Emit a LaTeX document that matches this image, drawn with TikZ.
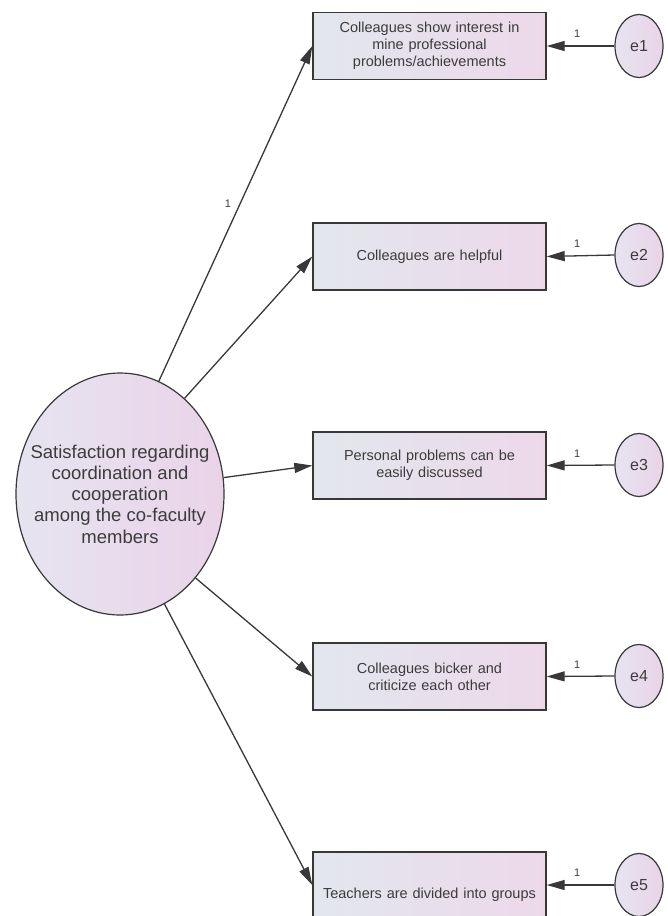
\documentclass[tikz,border=0pt]{standalone}
\usepackage{fontspec}
\setmainfont{Liberation Sans}
\usetikzlibrary{arrows.meta,shapes.geometric}
\definecolor{boxL}{HTML}{E2E7EE}
\definecolor{boxR}{HTML}{EDD8EA}
\definecolor{ellL}{HTML}{E6E4F1}
\definecolor{ellR}{HTML}{EAD3E8}
\definecolor{txt}{HTML}{3C3C3C}
\definecolor{edge}{HTML}{383838}
\begin{document}
\begin{tikzpicture}[x=1pt,y=-1pt,
  obs/.style={draw=edge, line width=1.4pt, left color=boxL, right color=boxR,
    minimum width=233pt, minimum height=67pt, inner sep=2pt, text width=225pt,
    align=center, font=\fontsize{14.5}{17}\selectfont, text=txt},
  err/.style={ellipse, draw=edge, line width=1.2pt, left color=ellL, right color=ellR,
    minimum width=48pt, minimum height=63pt, inner sep=0pt,
    font=\fontsize{16}{18}\selectfont, text=txt},
  conn/.style={draw=edge, line width=1.3pt, -{Triangle[length=18pt,width=10pt]}},
  one/.style={font=\fontsize{11}{12}\selectfont, text=txt, inner sep=0pt}
]
\useasboundingbox (0,0) rectangle (668,916);

% latent variable
\node[ellipse, draw=edge, line width=1.2pt, left color=ellL, right color=ellR,
  minimum width=208pt, minimum height=242pt, inner sep=0pt] (lat) at (120,494) {};
\node[text=txt, align=center, font=\fontsize{18.5}{21.3}\selectfont] (latt) at (lat.center)
  {Satisfaction regarding\\coordination and\\cooperation\\among the co-faculty\\members};

% observed variables
\node[obs] (b1) at (429.5,46) {Colleagues show interest in\\ mine professional\\ problems/achievements};
\node[obs] (b2) at (429.5,256.5) {Colleagues are helpful};
\node[obs] (b3) at (429.5,465.5) {Personal problems can be\\ easily discussed};
\node[obs] (b4) at (429.5,676.5) {Colleagues bicker and\\ criticize each other};
\node[obs, minimum height=86pt] (b5) at (429.5,895) {Teachers are divided into groups};

% error terms
\node[err] (e1) at (639,46) {e1};
\node[err] (e2) at (639,255) {e2};
\node[err] (e3) at (639,465) {e3};
\node[err] (e4) at (639,676) {e4};
\node[err] (e5) at (639,885) {e5};

% loadings
\draw[conn] (lat.71) -- (b1.west) node[one, pos=0.528, xshift=-12pt] {1};
\draw[conn] (lat.56.7) -- (b2.west);
\draw[conn] (lat.9.4) -- (b3.west);
\draw[conn] (lat.-48.2) -- (b4.west);
\draw[conn] (lat.-68.3) -- (e5 -| b5.west);

% error paths
\draw[conn] (e1.west) -- (b1.east) node[one, pos=0.55, yshift=12pt] {1};
\draw[conn] (e2.west) -- (b2.east) node[one, pos=0.55, yshift=12pt] {1};
\draw[conn] (e3.west) -- (b3.east) node[one, pos=0.55, yshift=12pt] {1};
\draw[conn] (e4.west) -- (b4.east) node[one, pos=0.55, yshift=12pt] {1};
\draw[conn] (e5.west) -- (e5 -| b5.east) node[one, pos=0.55, yshift=12pt] {1};
\end{tikzpicture}
\end{document}
